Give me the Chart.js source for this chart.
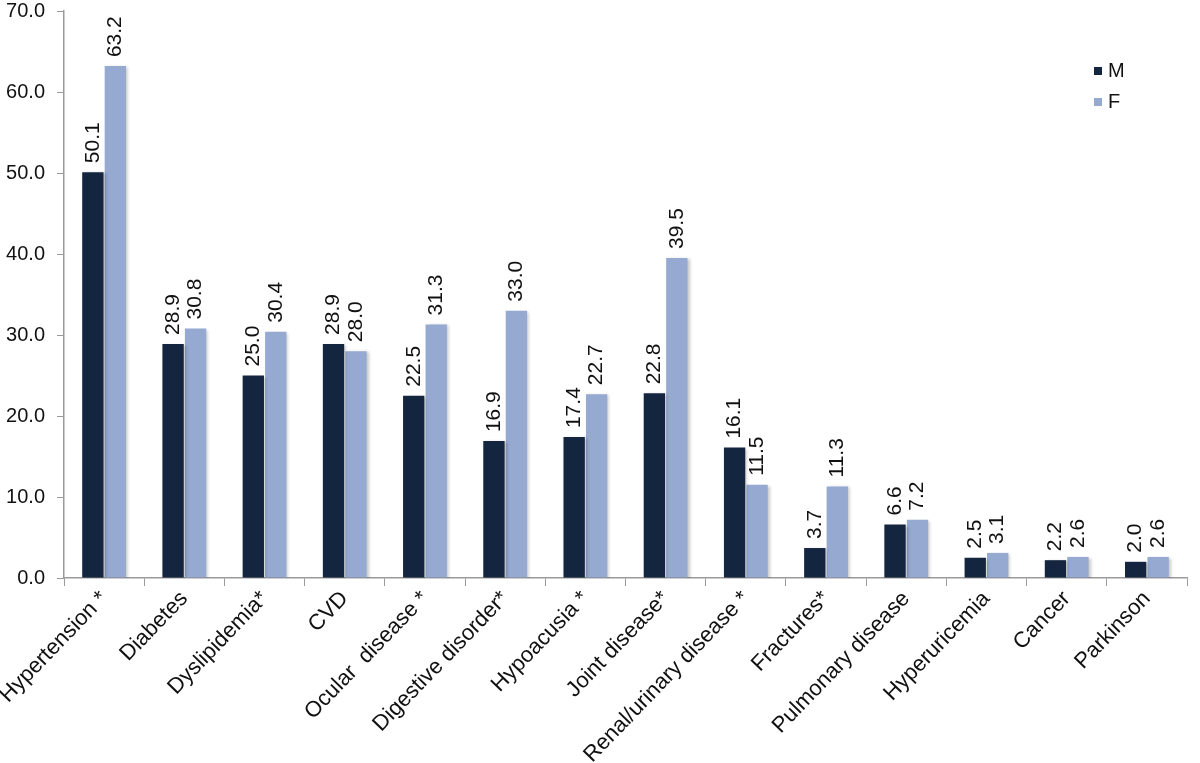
<!DOCTYPE html>
<html>
<head>
<meta charset="utf-8">
<title>Prevalence by sex</title>
<script src="https://cdn.jsdelivr.net/npm/chart.js@4/dist/chart.umd.min.js"></script>
<style>
  html, body { margin: 0; padding: 0; background: #fff; }
  #chart-container { width: 1200px; height: 763px; }
</style>
</head>
<body>
<div id="chart-container"><canvas id="chart"></canvas></div>
<script>
// categories and values
const categories = [
    'Hypertension *', 'Diabetes', 'Dyslipidemia*', 'CVD', 'Ocular  disease *',
    'Digestive disorder*', 'Hypoacusia *', 'Joint disease*', 'Renal/urinary disease *',
    'Fractures*', 'Pulmonary disease', 'Hyperuricemia', 'Cancer', 'Parkinson'
];
const maleValues = [50.1, 28.9, 25.0, 28.9, 22.5, 16.9, 17.4, 22.8, 16.1, 3.7, 6.6, 2.5, 2.2, 2.0];
const femaleValues = [63.2, 30.8, 30.4, 28.0, 31.3, 33.0, 22.7, 39.5, 11.5, 11.3, 7.2, 3.1, 2.6, 2.6];
const yTicks = [0, 10, 20, 30, 40, 50, 60, 70];

const FONT = 'Liberation Sans, Arial, sans-serif';
const maleColor = '#14253f';
const femaleColor = '#95a9d1';
const axisColor = '#9a9a9a';

// soft shadow behind the bars
const barShadow = {
    id: 'barShadow',
    beforeDatasetsDraw(chart) {
        const ctx = chart.ctx;
        ctx.save();
        ctx.shadowColor = 'rgba(0,0,0,0.22)';
        ctx.shadowOffsetX = 2;
        ctx.shadowOffsetY = 1;
        ctx.shadowBlur = 3;
    },
    afterDatasetsDraw(chart) {
        chart.ctx.restore();
    }
};

// vertical value labels above each bar
const valueLabels = {
    id: 'valueLabels',
    afterDatasetsDraw(chart) {
        const ctx = chart.ctx;
        chart.data.datasets.forEach((ds, i) => {
            const meta = chart.getDatasetMeta(i);
            meta.data.forEach((bar, j) => {
                ctx.save();
                ctx.translate(bar.x, bar.y - 9);
                ctx.rotate(-Math.PI / 2);
                ctx.font = '21px ' + FONT;
                ctx.fillStyle = '#111';
                ctx.textAlign = 'left';
                ctx.textBaseline = 'middle';
                ctx.fillText(ds.data[j].toFixed(1), 0, 0);
                ctx.restore();
            });
        });
    }
};

// small legend in the top right corner
const cornerLegend = {
    id: 'cornerLegend',
    afterDraw(chart) {
        const ctx = chart.ctx;
        chart.data.datasets.forEach((ds, i) => {
            const y = 71 + i * 31;
            ctx.save();
            ctx.fillStyle = ds.backgroundColor;
            ctx.fillRect(1094, y - 4, 8, 8);
            ctx.font = '20px ' + FONT;
            ctx.fillStyle = '#111';
            ctx.textAlign = 'left';
            ctx.textBaseline = 'middle';
            ctx.fillText(ds.label, 1108, y);
            ctx.restore();
        });
    }
};

const chart = new Chart(document.getElementById('chart'), {
    type: 'bar',
    data: {
        labels: categories,
        datasets: [
            { label: 'M', data: maleValues, backgroundColor: maleColor },
            { label: 'F', data: femaleValues, backgroundColor: femaleColor }
        ]
    },
    options: {
        responsive: true,
        maintainAspectRatio: false,
        animation: false,
        devicePixelRatio: 1,
        categoryPercentage: 0.56,
        barPercentage: 0.95,
        layout: { padding: { top: 11, right: 13, left: 0, bottom: 0 } },
        plugins: {
            legend: { display: false },
            tooltip: { enabled: false }
        },
        scales: {
            x: {
                grid: {
                    display: true,
                    offset: true,
                    drawOnChartArea: false,
                    drawTicks: true,
                    tickLength: 8,
                    color: axisColor
                },
                border: { display: true, color: axisColor, width: 1.5 },
                ticks: {
                    color: '#111',
                    font: { family: FONT, size: 22 },
                    minRotation: 46,
                    maxRotation: 46,
                    autoSkip: false,
                    padding: 0
                },
                afterFit(scale) {
                    scale.height = 185;
                    scale.paddingLeft = 0;
                    scale.paddingRight = 0;
                }
            },
            y: {
                min: 0,
                max: 70,
                afterBuildTicks(scale) {
                    scale.ticks = yTicks.map(v => ({ value: v }));
                },
                grid: {
                    display: true,
                    drawOnChartArea: false,
                    drawTicks: true,
                    tickLength: 7,
                    color: axisColor
                },
                border: { display: true, color: axisColor, width: 1.5 },
                ticks: {
                    color: '#111',
                    font: { family: FONT, size: 20 },
                    padding: 12,
                    callback: v => Number(v).toFixed(1)
                },
                afterFit(scale) {
                    scale.width = 64;
                    scale.paddingTop = 0;
                    scale.paddingBottom = 0;
                }
            }
        }
    },
    plugins: [barShadow, valueLabels, cornerLegend]
});
</script>
</body>
</html>
